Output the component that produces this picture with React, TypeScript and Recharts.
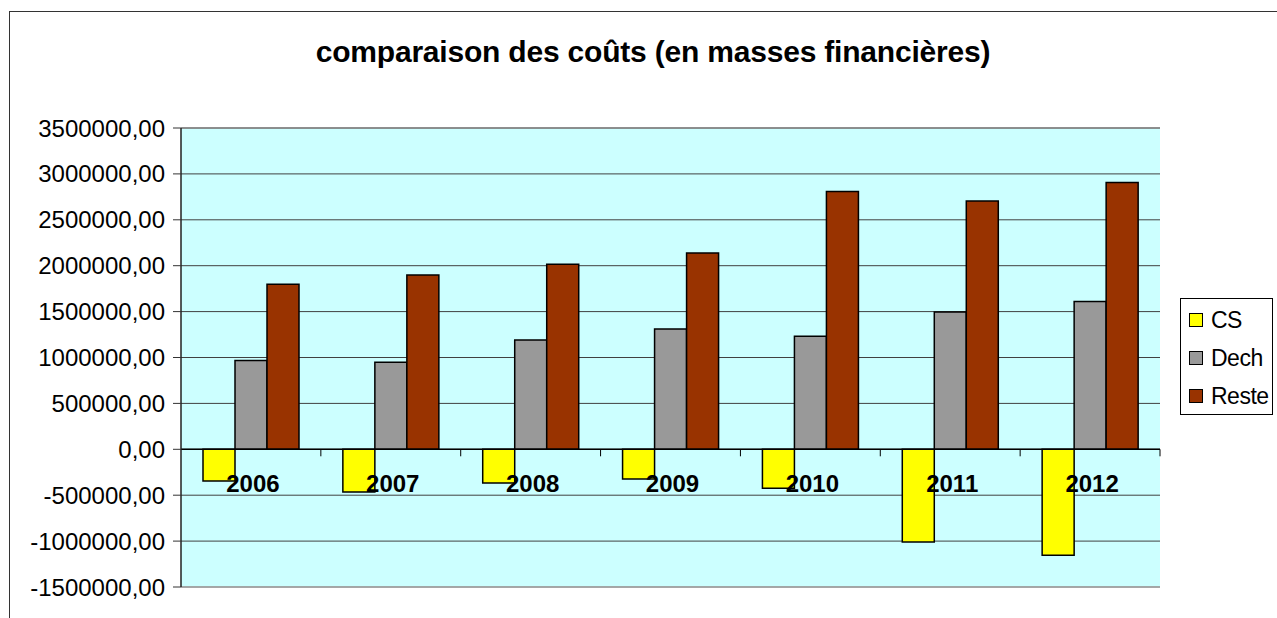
import { Bar, BarChart, CartesianGrid, ReferenceLine, XAxis, YAxis } from "recharts";

const years = ["2006", "2007", "2008", "2009", "2010", "2011", "2012"];
const cs = [-345000, -465000, -367000, -323000, -425000, -1010000, -1155000];
const dech = [966000, 948000, 1191000, 1311000, 1231000, 1496000, 1609000];
const reste = [1797000, 1899000, 2015000, 2139000, 2807000, 2705000, 2905000];
const yTicks = [-1500000, -1000000, -500000, 0, 500000, 1000000, 1500000, 2000000, 2500000, 3000000, 3500000];

const series = [
  { key: "CS", color: "#FFFF00" },
  { key: "Dech", color: "#999999" },
  { key: "Reste", color: "#993300" },
];

const data = years.map((year, i) => ({ year, CS: cs[i], Dech: dech[i], Reste: reste[i] }));

const Y_MIN = -1500000;
const Y_MAX = 3500000;
const PLOT_TOP = 128;
const PLOT_BOTTOM = 587;
const FONT = "'Liberation Sans', Arial, sans-serif";

const fmt = (v: number) => v.toFixed(2).replace(".", ",");

function YearTick(props: any) {
  const { x, y, payload } = props;
  const zeroY = y - (PLOT_BOTTOM - PLOT_TOP) * ((0 - Y_MIN) / (Y_MAX - Y_MIN));
  const half = payload?.offset || 70;
  return (
    <g>
      <line x1={x + half} x2={x + half} y1={zeroY} y2={zeroY + 7} stroke="#000" strokeWidth={1} />
      <text x={x + 2} y={zeroY + 43} textAnchor="middle" fontFamily={FONT} fontSize={24} fontWeight="bold" fill="#000">
        {payload.value}
      </text>
    </g>
  );
}

export default function App() {
  return (
    <div style={{ position: "absolute", left: 0, top: 0, width: 1277, height: 618, overflow: "hidden", background: "#fff", fontFamily: FONT }}>
      <div style={{ position: "absolute", left: 9, top: 11, width: 1300, height: 640, borderTop: "1.5px solid #333", borderLeft: "1.5px solid #333" }} />
      <div style={{ position: "absolute", left: 153, width: 1000, top: 35, textAlign: "center", fontSize: 30, fontWeight: "bold", letterSpacing: -0.2, color: "#000" }}>
        comparaison des coûts (en masses financières)
      </div>
      <div style={{ position: "absolute", left: 0, top: 0 }}>
        <BarChart width={1277} height={618} data={data} margin={{ top: PLOT_TOP, left: 0, right: 117, bottom: 618 - PLOT_BOTTOM - 1 }} barCategoryGap={22} barGap={0}>
          <CartesianGrid vertical={false} stroke="#404040" fill="#CCFFFF" fillOpacity={1} />
          <YAxis
            domain={[Y_MIN, Y_MAX]}
            ticks={yTicks}
            width={181}
            tickFormatter={fmt}
            tickSize={8}
            tickMargin={8}
            tick={{ fill: "#000", fontSize: 24, fontFamily: FONT }}
            tickLine={{ stroke: "#333" }}
            axisLine={{ stroke: "#222", strokeWidth: 1.5 }}
            interval={0}
          />
          <YAxis yAxisId="r" orientation="right" domain={[Y_MIN, Y_MAX]} width={0} tick={false} tickLine={false} axisLine={{ stroke: "#999" }} />
          <ReferenceLine y={Y_MAX} stroke="#888" strokeWidth={1.5} />
          <ReferenceLine y={Y_MIN} stroke="#aaa" strokeWidth={1.5} />
          {series.map((s) => (
            <Bar key={s.key} dataKey={s.key} fill={s.color} stroke="#000" strokeWidth={1.5} isAnimationActive={false} />
          ))}
          <ReferenceLine y={0} stroke="#000" strokeWidth={1.5} />
          <XAxis dataKey="year" height={1} tickSize={0} tickMargin={0} tickLine={false} axisLine={false} interval={0} tick={<YearTick />} />
        </BarChart>
      </div>
      <div style={{ position: "absolute", left: 1180, top: 298, width: 93, height: 117, border: "1px solid #000", background: "#fff", boxSizing: "border-box" }}>
        {series.map((s, i) => (
          <div key={s.key} style={{ position: "absolute", left: 8, top: 7 + i * 38, height: 28, display: "flex", alignItems: "center", fontSize: 23, letterSpacing: -0.5, color: "#000" }}>
            <span style={{ display: "inline-block", width: 12, height: 12, background: s.color, border: "1px solid #000", marginRight: 8 }} />
            {s.key}
          </div>
        ))}
      </div>
    </div>
  );
}
